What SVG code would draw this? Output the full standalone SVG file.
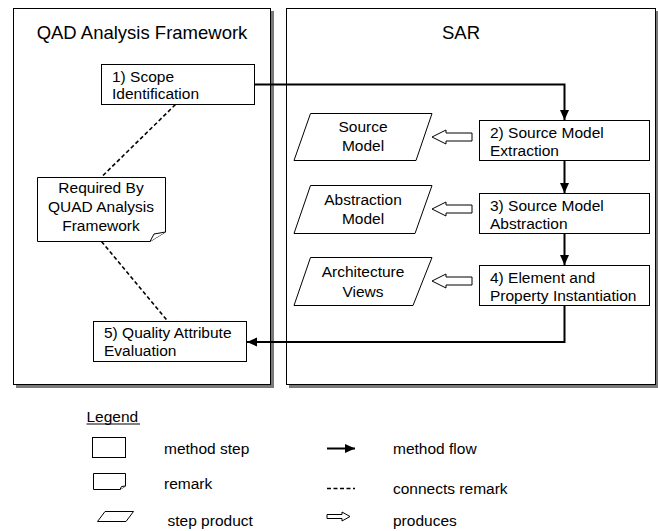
<svg xmlns="http://www.w3.org/2000/svg" width="658" height="531" viewBox="0 0 658 531">
<style>
text{font-family:"Liberation Sans",Arial,sans-serif;fill:#000}
.t{font-size:15.5px}
.h{font-size:18.5px}
.box{fill:#fff;stroke:#000;stroke-width:1}
.shadow{fill:#7a7a7a}
.flow{fill:none;stroke:#000;stroke-width:2}
.dash{fill:none;stroke:#000;stroke-width:1.6;stroke-dasharray:4 2.5}
.hollow{fill:#fff;stroke:#000;stroke-width:1}
</style>
<defs>
<marker id="ah" markerUnits="userSpaceOnUse" markerWidth="11" markerHeight="10" refX="10" refY="5" orient="auto">
<path d="M0,0.5 L10,5 L0,9.5 z" fill="#000"/>
</marker>
</defs>
<rect width="658" height="531" fill="#fff"/>
<g id="panel-qad">
<rect class="shadow" x="16" y="11" width="258" height="377"/>
<rect class="box" x="13.5" y="8.5" width="257" height="376"/>
<text class="h" x="142" y="39" text-anchor="middle">QAD Analysis Framework</text>
</g>
<g id="panel-sar">
<rect class="shadow" x="289" y="11" width="369" height="377"/>
<rect class="box" x="286.5" y="8.5" width="369" height="376"/>
<text class="h" x="461" y="39" text-anchor="middle">SAR</text>
</g>
<g id="step1">
<rect class="box" x="101.5" y="64.5" width="153" height="40"/>
<text class="t" x="112" y="82">1) Scope</text>
<text class="t" x="112" y="99">Identification</text>
</g>
<g id="remark">
<path class="box" d="M37.5,177.5 H165.5 V232 L150,241.5 H37.5 Z"/>
<path class="box" d="M150,241.5 L154,234 L165.5,232"/>
<text class="t" x="101" y="193" text-anchor="middle">Required By</text>
<text class="t" x="101" y="212" text-anchor="middle">QUAD Analysis</text>
<text class="t" x="101" y="231" text-anchor="middle">Framework</text>
</g>
<g id="step5">
<rect class="box" x="93.5" y="321.5" width="153" height="40"/>
<text class="t" x="104" y="338">5) Quality Attribute</text>
<text class="t" x="104" y="356">Evaluation</text>
</g>
<g id="step2">
<rect class="box" x="479.5" y="120.5" width="170" height="40"/>
<text class="t" x="490" y="137.5">2) Source Model</text>
<text class="t" x="490" y="155.5">Extraction</text>
</g>
<g id="step3">
<rect class="box" x="479.5" y="193.5" width="170" height="40"/>
<text class="t" x="490" y="210.5">3) Source Model</text>
<text class="t" x="490" y="228.5">Abstraction</text>
</g>
<g id="step4">
<rect class="box" x="479.5" y="265.5" width="170" height="40"/>
<text class="t" x="490" y="282.5">4) Element and</text>
<text class="t" x="490" y="300.5">Property Instantiation</text>
</g>
<g id="source-model">
<polygon class="box" points="310.5,113.5 432,113.5 416,160.5 294,160.5"/>
<text class="t" x="363" y="132" text-anchor="middle">Source</text>
<text class="t" x="363" y="151" text-anchor="middle">Model</text>
</g>
<g id="abstraction-model">
<polygon class="box" points="310.5,185.5 432,185.5 415,233.5 294,233.5"/>
<text class="t" x="363" y="205" text-anchor="middle">Abstraction</text>
<text class="t" x="363" y="224" text-anchor="middle">Model</text>
</g>
<g id="architecture-views">
<polygon class="box" points="310.5,257.5 432,257.5 413,305.5 294,305.5"/>
<text class="t" x="363" y="277" text-anchor="middle">Architecture</text>
<text class="t" x="363" y="296.5" text-anchor="middle">Views</text>
</g>
<g id="connectors">
<path class="flow" d="M254.5,84.5 H564.5 V120" marker-end="url(#ah)"/>
<path class="flow" d="M564.5,160.5 V193" marker-end="url(#ah)"/>
<path class="flow" d="M564.5,233.5 V265" marker-end="url(#ah)"/>
<path class="flow" d="M564.5,305.5 V342 H247" marker-end="url(#ah)"/>
<path class="dash" d="M175.5,104.5 L101,177.5"/>
<path class="dash" d="M101.5,241.5 L168,321.5"/>
<polygon class="hollow" points="432,137 446,130 446,133 472,133 472,141 446,141 446,144"/>
<polygon class="hollow" points="432,209 446,202 446,205 472,205 472,213 446,213 446,216"/>
<polygon class="hollow" points="432,281 446,274 446,277 472,277 472,285 446,285 446,288"/>
</g>
<g id="legend">
<text class="t" x="86.5" y="421.5">Legend</text>
<line x1="86.5" y1="424" x2="140" y2="424" stroke="#000" stroke-width="1"/>
<rect class="box" x="92.5" y="437.5" width="33" height="20"/>
<text class="t" x="164" y="453.5">method step</text>
<path class="box" d="M93.5,473.5 H125.5 V486 L120,489.5 H93.5 Z"/>
<path class="box" d="M120,489.5 L121.5,486.5 L125.5,486"/>
<text class="t" x="164" y="488.5">remark</text>
<polygon class="box" points="105,511.5 133.5,511.5 126,521.5 97.5,521.5"/>
<text class="t" x="167.5" y="525.5">step product</text>
<path class="flow" d="M327,448.5 H355" marker-end="url(#ah)"/>
<text class="t" x="393" y="453.5">method flow</text>
<path class="dash" d="M327,488.5 H355" stroke-dasharray="4 2.6"/>
<text class="t" x="393" y="493.5">connects remark</text>
<polygon class="hollow" points="327,514.5 342,514.5 342,512 350,516.5 342,521 342,518.5 327,518.5"/>
<text class="t" x="393" y="525.5">produces</text>
</g>
</svg>
